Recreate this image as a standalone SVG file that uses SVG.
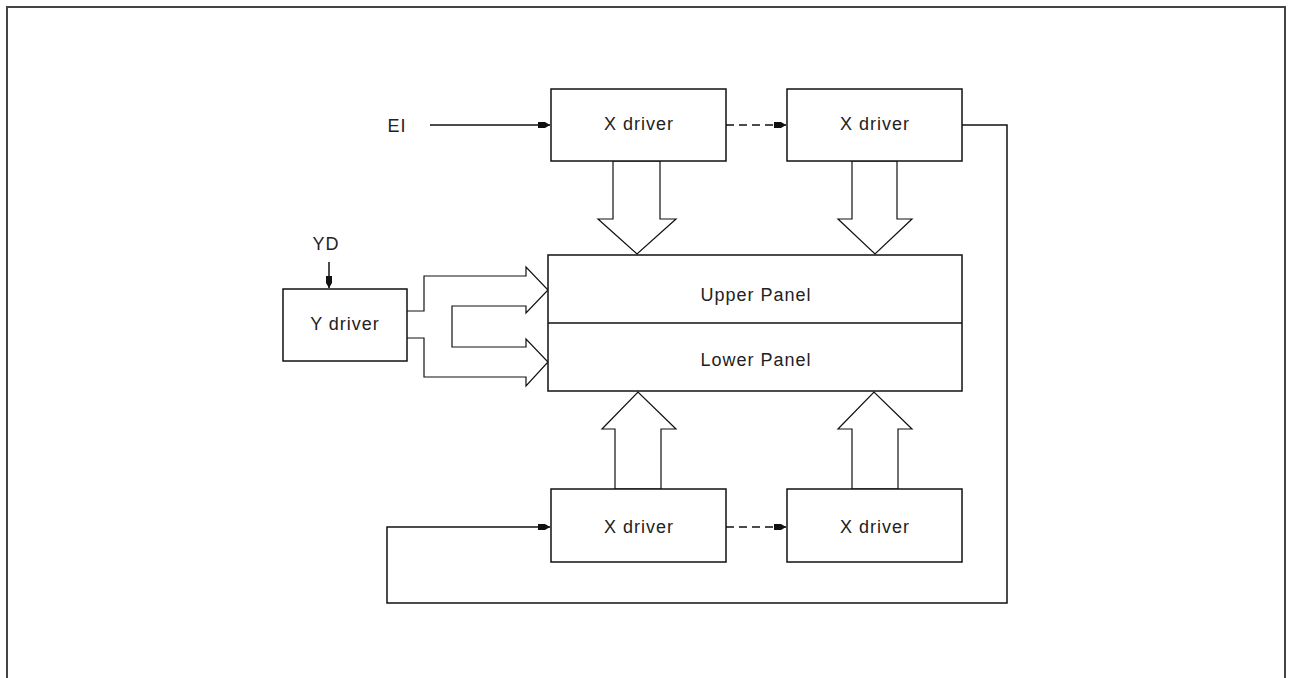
<svg xmlns="http://www.w3.org/2000/svg" width="1289" height="678" viewBox="0 0 1289 678">
<style>
.b{fill:#fff;stroke:#111;stroke-width:1.5}
.l{fill:none;stroke:#111;stroke-width:1.5}
.h{fill:#fff;stroke:#111;stroke-width:1.2;stroke-linejoin:miter}
.t{font-family:"Liberation Sans",Arial,sans-serif;font-size:18px;letter-spacing:1px;fill:#222;text-anchor:middle}
</style>
<defs>
<marker id="ah" viewBox="0 0 12 8" refX="12" refY="4" markerWidth="12" markerHeight="8" markerUnits="userSpaceOnUse" orient="auto">
<path d="M0,1 L7,1 L12,4 L7,7 L0,7 Z" fill="#111"/>
</marker>
</defs>
<rect x="7" y="7" width="1278" height="690" fill="none" stroke="#444" stroke-width="2"/>
<g id="connectors">
<line class="l" x1="430" y1="125" x2="550" y2="125" marker-end="url(#ah)"/>
<line class="l" x1="726" y1="125" x2="786" y2="125" stroke-dasharray="8,5" marker-end="url(#ah)"/>
<line class="l" x1="726" y1="527" x2="786" y2="527" stroke-dasharray="8,5" marker-end="url(#ah)"/>
<polyline class="l" points="962,125 1007,125 1007,603 387,603 387,527 550,527" marker-end="url(#ah)"/>
<line class="l" x1="329" y1="262" x2="329" y2="288" marker-end="url(#ah)"/>
<polygon class="h" points="613,161 660,161 660,219 676,219 637,254 598,219 613,219"/>
<polygon class="h" points="852,161 897,161 897,219 912,219 875,254 838,219 852,219"/>
<polygon class="h" points="615,489 661,489 661,429 676,429 638,392 602,429 615,429"/>
<polygon class="h" points="852,489 898,489 898,429 912,429 874,392 838,429 852,429"/>
<path class="h" d="M407,311 L424,311 L424,276 L526,276 L526,267 L548,290 L526,313 L526,306 L452,306 L452,347 L526,347 L526,339 L548,362 L526,386 L526,377 L424,377 L424,338 L407,338"/>
</g>
<g id="ei"><text class="t" x="397" y="132">EI</text></g>
<g id="yd"><text class="t" x="326" y="250">YD</text></g>
<g id="xdriver-top-1"><rect class="b" x="551" y="89" width="175" height="72"/><text class="t" x="639" y="130">X driver</text></g>
<g id="xdriver-top-2"><rect class="b" x="787" y="89" width="175" height="72"/><text class="t" x="875" y="130">X driver</text></g>
<g id="panel"><rect class="b" x="548" y="255" width="414" height="136"/><line class="l" x1="548" y1="323" x2="962" y2="323"/>
<text class="t" x="756" y="301">Upper Panel</text><text class="t" x="756" y="366">Lower Panel</text></g>
<g id="ydriver"><rect class="b" x="283" y="289" width="124" height="72"/><text class="t" x="345" y="330">Y driver</text></g>
<g id="xdriver-bot-1"><rect class="b" x="551" y="489" width="175" height="73"/><text class="t" x="639" y="533">X driver</text></g>
<g id="xdriver-bot-2"><rect class="b" x="787" y="489" width="175" height="73"/><text class="t" x="875" y="533">X driver</text></g>
</svg>
